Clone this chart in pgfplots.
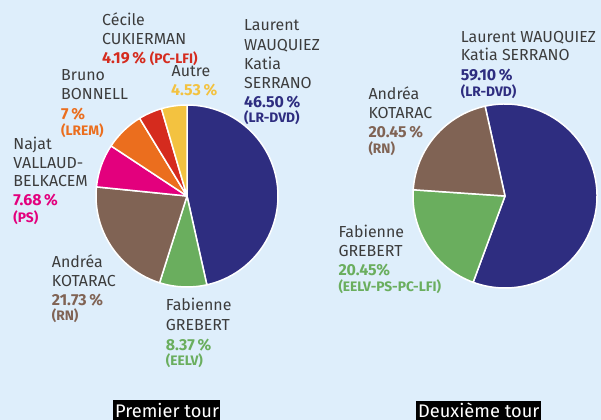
\documentclass[border=0pt]{standalone}
\usepackage{pgfplots}
\pgfplotsset{compat=1.18}
\usepackage{fontspec}
\setmainfont{Fira Sans}
\definecolor{bg}{HTML}{DEEEFB}
\definecolor{cnavy}{HTML}{2E2D80}
\definecolor{cgreen}{HTML}{6AAE5E}
\definecolor{cbrown}{HTML}{806354}
\definecolor{cpink}{HTML}{E3007D}
\definecolor{corange}{HTML}{EB6E1E}
\definecolor{cred}{HTML}{D52B1E}
\definecolor{cyellow}{HTML}{F3C240}
\definecolor{ctext}{HTML}{3C3C3C}
\newcommand\nm[3]{\node[anchor=base west,inner sep=0pt,text=ctext,font=\fontsize{16}{18}\selectfont] at (axis cs:#1,#2) {#3};}
\newcommand\val[4]{\node[anchor=base west,inner sep=0pt,text=#3,font=\fontsize{16}{18}\selectfont\bfseries] at (axis cs:#1,#2) {#4};}
\newcommand\pty[4]{\node[anchor=base west,inner sep=0pt,text=#3,font=\fontsize{13.8}{15}\selectfont\bfseries] at (axis cs:#1,#2) {#4};}
% pie: center x, center y, radius, start angle, list value/colour
\newcommand\pie[5]{%
  \gdef\curang{#4}%
  \foreach \v/\c in {#5}{%
    \pgfmathsetmacro\endang{\curang-3.6*\v}%
    \edef\temp{\noexpand\filldraw[fill=\c,draw=white,line width=1.5bp,line join=round] (axis cs:#1,#2) -- ++(\curang:#3bp) arc[start angle=\curang,end angle=\endang,radius=#3bp] -- cycle;}%
    \temp
    \xdef\curang{\endang}%
  }%
}
\begin{document}
\begin{tikzpicture}
\begin{axis}[width=601bp,height=420bp,scale only axis,xmin=0,xmax=601,ymin=0,ymax=420,hide axis,clip=false]
\fill[bg] (axis cs:0,0) rectangle (axis cs:601,420);
% Premier tour
\pie{187}{224}{91}{90}{46.50/cnavy,8.37/cgreen,21.73/cbrown,7.68/cpink,7/corange,4.19/cred,4.53/cyellow}
% Deuxieme tour
\pie{505}{224}{92}{102.5}{59.10/cnavy,20.45/cgreen,20.45/cbrown}
% labels left
\nm{102}{394.3}{Cécile}
\nm{102}{375.7}{CUKIERMAN}
\node[anchor=base west,inner sep=0pt,text=cred,font=\fontsize{16}{18}\selectfont\bfseries] at (axis cs:102,356.7) {4.19\,\% {\fontsize{13.8}{15}\selectfont (PC-LFI)}};
\nm{171.5}{343.3}{Autre}
\val{171}{324.3}{cyellow}{4.53\,\%}
\nm{244}{389.3}{Laurent}
\nm{244}{370}{WAUQUIEZ}
\nm{244}{351}{Katia}
\nm{244}{331.7}{SERRANO}
\val{244}{312.7}{cnavy}{46.50\,\%}
\pty{244}{297.3}{cnavy}{(LR-DVD)}
\nm{61}{340}{Bruno}
\nm{61}{321}{BONNELL}
\val{61}{301}{corange}{7\,\%}
\pty{61}{285}{corange}{(LREM)}
\nm{13.3}{271}{Najat}
\nm{13.3}{251.7}{VALLAUD-}
\nm{13.3}{233.3}{BELKACEM}
\val{13.3}{214.5}{cpink}{7.68\,\%}
\pty{13.3}{197.7}{cpink}{(PS)}
\nm{51.7}{152.7}{Andréa}
\nm{51.7}{133.3}{KOTARAC}
\val{51.7}{115}{cbrown}{21.73\,\%}
\pty{51.7}{100}{cbrown}{(RN)}
\nm{165.7}{109.3}{Fabienne}
\nm{165.7}{89.3}{GREBERT}
\val{165.7}{70}{cgreen}{8.37\,\%}
\pty{165.7}{54.3}{cgreen}{(EELV)}
% labels right
\nm{460.7}{377.7}{Laurent WAUQUIEZ}
\nm{460.7}{359.3}{Katia SERRANO}
\val{460.7}{340}{cnavy}{59.10\,\%}
\pty{460.7}{323.3}{cnavy}{(LR-DVD)}
\nm{368.3}{320.7}{Andréa}
\nm{368.3}{301.7}{KOTARAC}
\val{368.3}{282.7}{cbrown}{20.45\,\%}
\pty{368.3}{266.7}{cbrown}{(RN)}
\nm{338.3}{182.3}{Fabienne}
\nm{338.3}{163.3}{GREBERT}
\val{338.3}{145}{cgreen}{20.45\%}
\pty{338.3}{129}{cgreen}{(EELV-PS-PC-LFI)}
% bottom boxes
\fill[black] (axis cs:113,0) rectangle (axis cs:220,20);
\node[anchor=base west,inner sep=0pt,text=white,font=\fontsize{18.3}{22}\selectfont] at (axis cs:115,2.8) {Premier tour};
\fill[black] (axis cs:416,0) rectangle (axis cs:541,19.3);
\node[anchor=base west,inner sep=0pt,text=white,font=\fontsize{18.3}{22}\selectfont] at (axis cs:418,2.8) {Deuxième tour};
\end{axis}
\pgfresetboundingbox
\path[use as bounding box] (0,0) rectangle (601bp,420bp);
\end{tikzpicture}
\end{document}
